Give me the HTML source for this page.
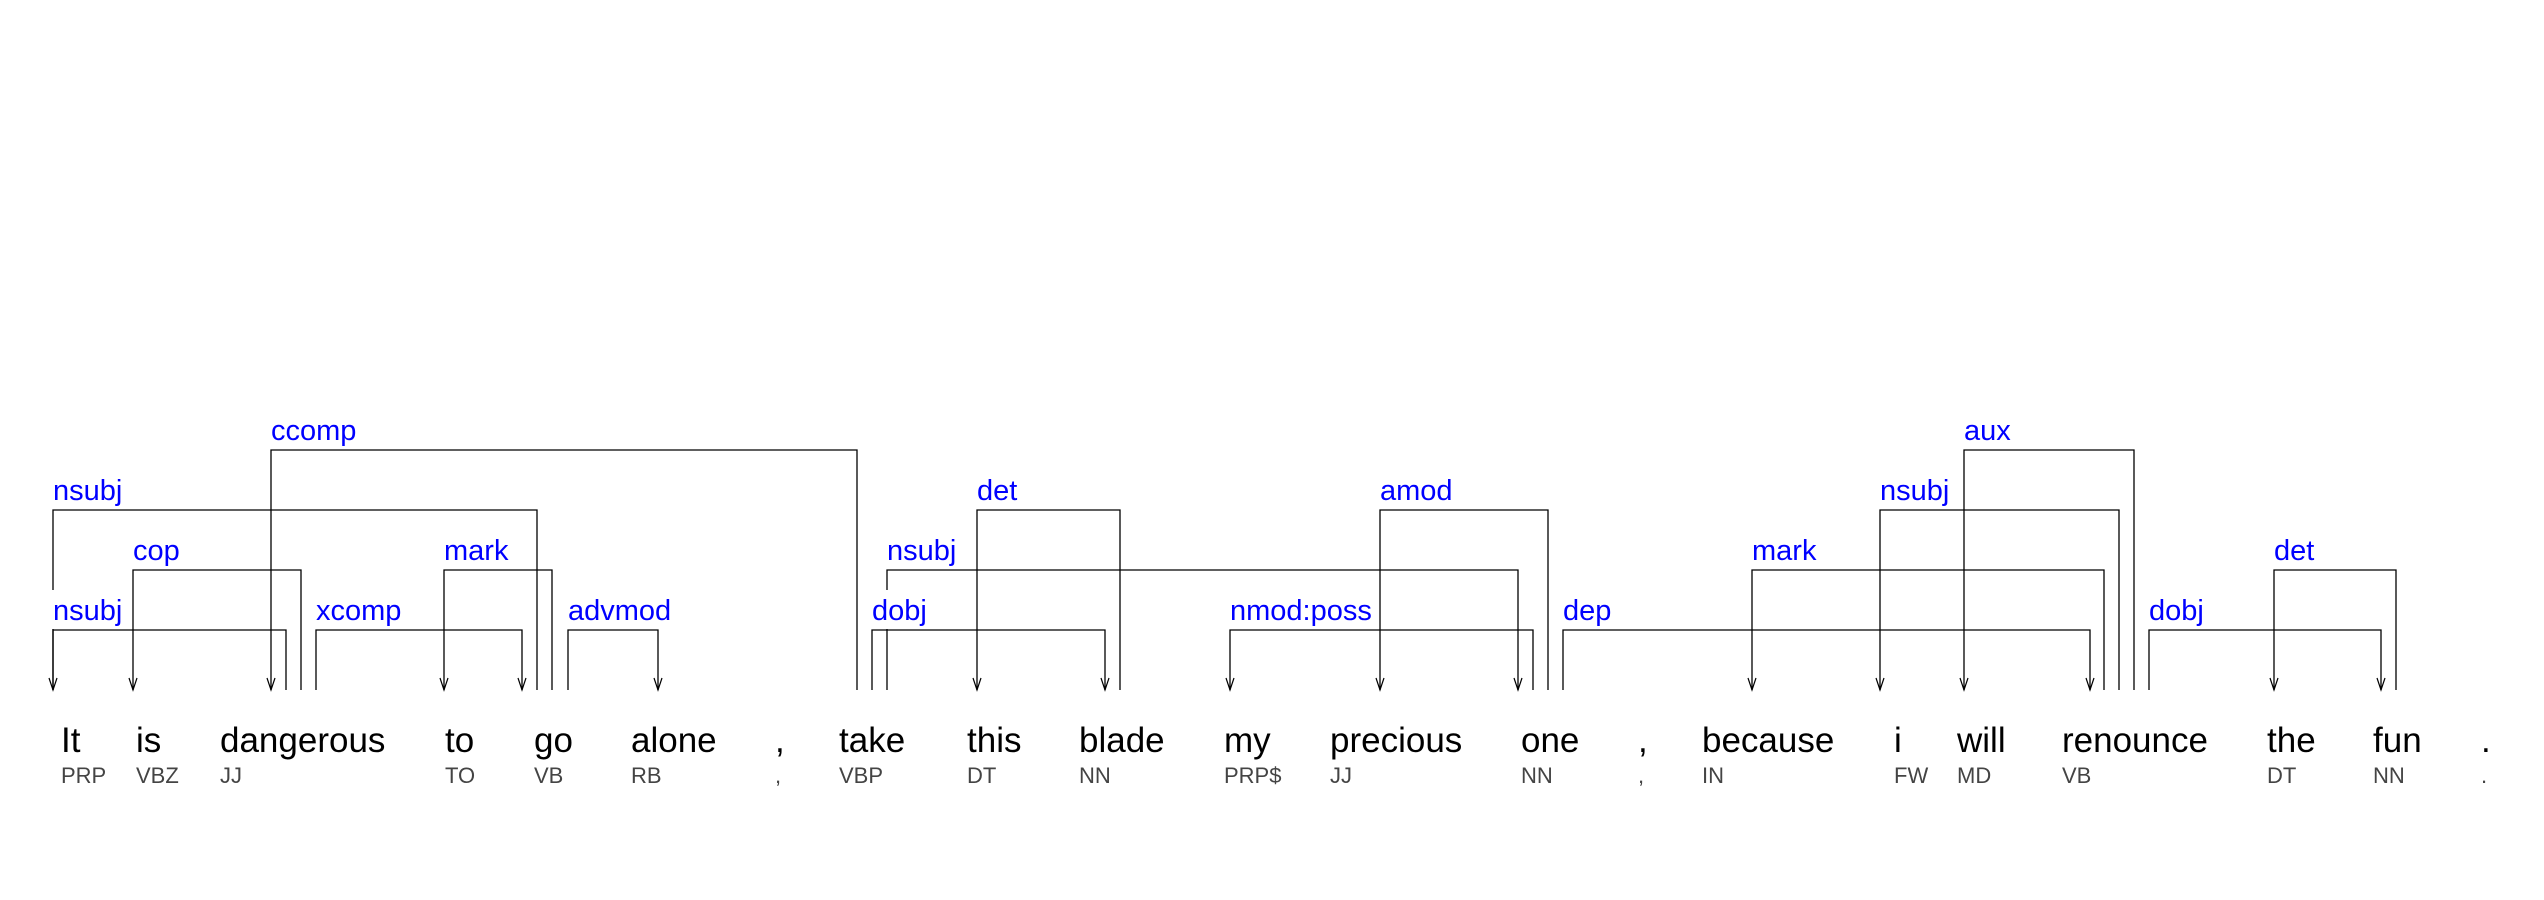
<!DOCTYPE html>
<html><head><meta charset="utf-8"><style>
html,body{margin:0;padding:0;background:#fff;}
svg{display:block;}
.w{font-family:"Liberation Sans",Arial,sans-serif;font-size:35px;fill:#000;}
.p{font-family:"Liberation Sans",Arial,sans-serif;font-size:22px;fill:#444;}
.l{font-family:"Liberation Sans",Arial,sans-serif;font-size:29px;fill:#0000ff;}
</style></head><body>
<svg width="2544" height="900" viewBox="0 0 2544 900" xmlns="http://www.w3.org/2000/svg">
<g stroke="#000" stroke-width="1.3" fill="none">
<polyline points="271,690 271,450 857,450 857,690"/>
<polyline points="53,690 53,510 537,510 537,690"/>
<polyline points="133,690 133,570 301,570 301,690"/>
<polyline points="53,690 53,630 286,630 286,690"/>
<polyline points="316,690 316,630 522,630 522,690"/>
<polyline points="444,690 444,570 552,570 552,690"/>
<polyline points="568,690 568,630 658,630 658,690"/>
<polyline points="872,690 872,630 1105,630 1105,690"/>
<polyline points="887,690 887,570 1518,570 1518,690"/>
<polyline points="977,690 977,510 1120,510 1120,690"/>
<polyline points="1230,690 1230,630 1533,630 1533,690"/>
<polyline points="1380,690 1380,510 1548,510 1548,690"/>
<polyline points="1563,690 1563,630 2090,630 2090,690"/>
<polyline points="1964,690 1964,450 2134,450 2134,690"/>
<polyline points="1880,690 1880,510 2119,510 2119,690"/>
<polyline points="1752,690 1752,570 2104,570 2104,690"/>
<polyline points="2149,690 2149,630 2381,630 2381,690"/>
<polyline points="2274,690 2274,570 2396,570 2396,690"/>
<g stroke-width="1.2">
<polyline points="49,678 53,690 57,678"/>
<polyline points="129,678 133,690 137,678"/>
<polyline points="267,678 271,690 275,678"/>
<polyline points="440,678 444,690 448,678"/>
<polyline points="518,678 522,690 526,678"/>
<polyline points="654,678 658,690 662,678"/>
<polyline points="973,678 977,690 981,678"/>
<polyline points="1101,678 1105,690 1109,678"/>
<polyline points="1226,678 1230,690 1234,678"/>
<polyline points="1376,678 1380,690 1384,678"/>
<polyline points="1514,678 1518,690 1522,678"/>
<polyline points="1748,678 1752,690 1756,678"/>
<polyline points="1876,678 1880,690 1884,678"/>
<polyline points="1960,678 1964,690 1968,678"/>
<polyline points="2086,678 2090,690 2094,678"/>
<polyline points="2270,678 2274,690 2278,678"/>
<polyline points="2377,678 2381,690 2385,678"/>
</g>
</g>
<rect x="50" y="590" width="74" height="39" fill="#fff"/>
<rect x="870" y="590" width="50" height="39" fill="#fff"/>
<text class="l" x="271" y="440">ccomp</text>
<text class="l" x="53" y="500">nsubj</text>
<text class="l" x="133" y="560">cop</text>
<text class="l" x="53" y="620">nsubj</text>
<text class="l" x="316" y="620">xcomp</text>
<text class="l" x="444" y="560">mark</text>
<text class="l" x="568" y="620">advmod</text>
<text class="l" x="872" y="620">dobj</text>
<text class="l" x="887" y="560">nsubj</text>
<text class="l" x="977" y="500">det</text>
<text class="l" x="1230" y="620">nmod:poss</text>
<text class="l" x="1380" y="500">amod</text>
<text class="l" x="1563" y="620">dep</text>
<text class="l" x="1964" y="440">aux</text>
<text class="l" x="1880" y="500">nsubj</text>
<text class="l" x="1752" y="560">mark</text>
<text class="l" x="2149" y="620">dobj</text>
<text class="l" x="2274" y="560">det</text>
<text class="w" x="61" y="752">It</text>
<text class="w" x="136" y="752">is</text>
<text class="w" x="220" y="752">dangerous</text>
<text class="w" x="445" y="752">to</text>
<text class="w" x="534" y="752">go</text>
<text class="w" x="631" y="752">alone</text>
<text class="w" x="775" y="752">,</text>
<text class="w" x="839" y="752">take</text>
<text class="w" x="967" y="752">this</text>
<text class="w" x="1079" y="752">blade</text>
<text class="w" x="1224" y="752">my</text>
<text class="w" x="1330" y="752">precious</text>
<text class="w" x="1521" y="752">one</text>
<text class="w" x="1638" y="752">,</text>
<text class="w" x="1702" y="752">because</text>
<text class="w" x="1894" y="752">i</text>
<text class="w" x="1957" y="752">will</text>
<text class="w" x="2062" y="752">renounce</text>
<text class="w" x="2267" y="752">the</text>
<text class="w" x="2373" y="752">fun</text>
<text class="w" x="2481" y="752">.</text>
<text class="p" x="61" y="783">PRP</text>
<text class="p" x="136" y="783">VBZ</text>
<text class="p" x="220" y="783">JJ</text>
<text class="p" x="445" y="783">TO</text>
<text class="p" x="534" y="783">VB</text>
<text class="p" x="631" y="783">RB</text>
<text class="p" x="775" y="783">,</text>
<text class="p" x="839" y="783">VBP</text>
<text class="p" x="967" y="783">DT</text>
<text class="p" x="1079" y="783">NN</text>
<text class="p" x="1224" y="783">PRP$</text>
<text class="p" x="1330" y="783">JJ</text>
<text class="p" x="1521" y="783">NN</text>
<text class="p" x="1638" y="783">,</text>
<text class="p" x="1702" y="783">IN</text>
<text class="p" x="1894" y="783">FW</text>
<text class="p" x="1957" y="783">MD</text>
<text class="p" x="2062" y="783">VB</text>
<text class="p" x="2267" y="783">DT</text>
<text class="p" x="2373" y="783">NN</text>
<text class="p" x="2481" y="783">.</text>
</svg>
</body></html>
